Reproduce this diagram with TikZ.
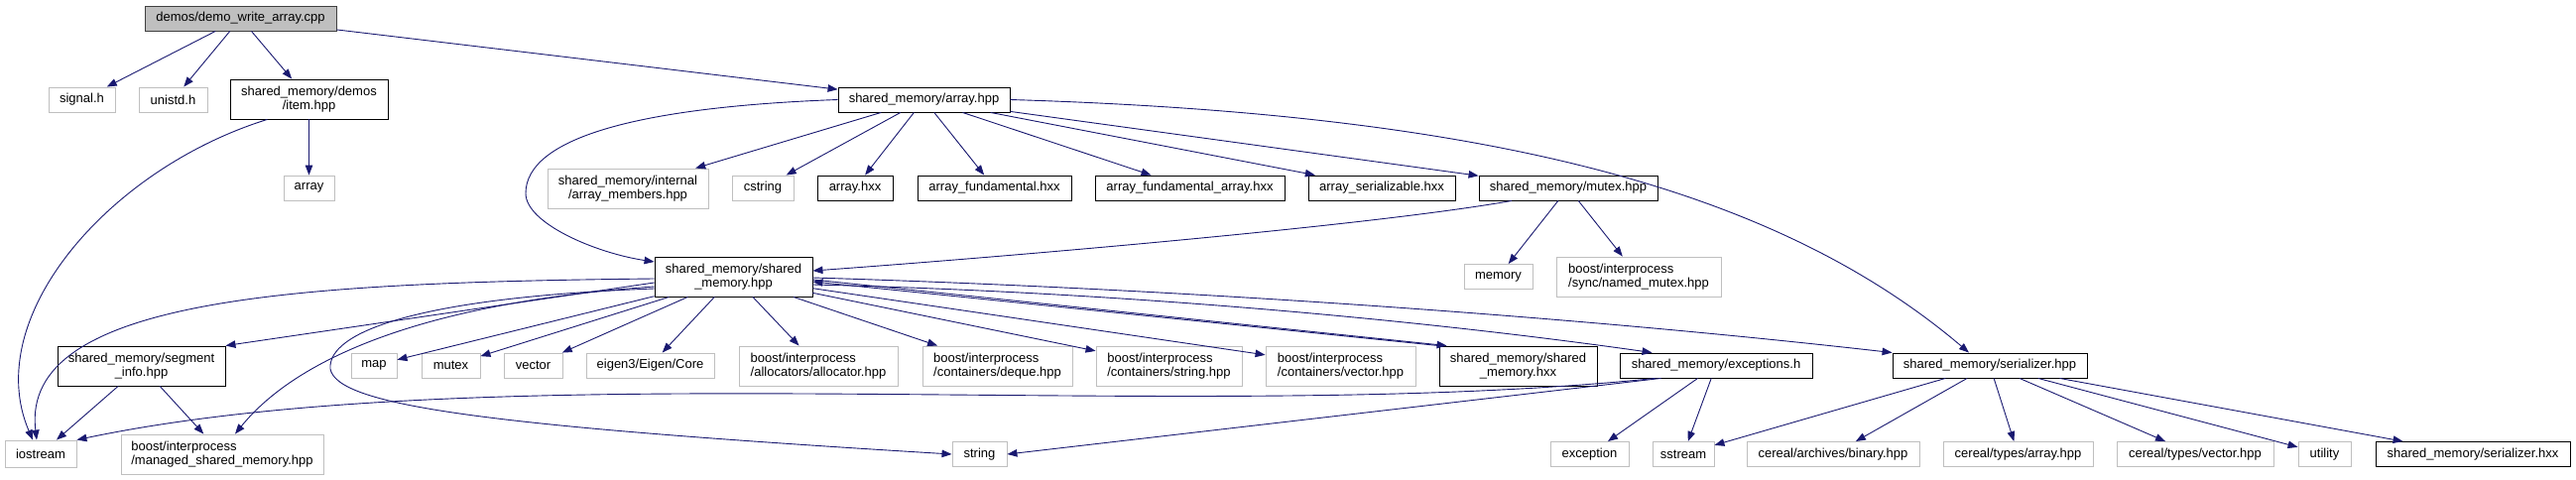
\documentclass[tikz,border=0pt]{standalone}
\usepackage{fontspec}
\setmainfont{Liberation Sans}
\usetikzlibrary{arrows.meta, calc}
\definecolor{edgeblue}{RGB}{25,25,112}
\definecolor{sysgray}{RGB}{191,191,191}
\definecolor{rootgray}{RGB}{64,64,64}

\begin{document}
\begin{tikzpicture}[
  x=1pt, y=-1pt,
  file/.style={draw=black, line width=0.9pt, inner sep=0pt, minimum height=25pt,
               align=center, font=\fontsize{13}{14.5}\selectfont},
  tall/.style={minimum height=40pt},
  sys/.style={file, draw=sysgray},
  root/.style={file, draw=rootgray, fill=sysgray},
  dep/.style={draw=edgeblue, line width=0.9pt, -{Triangle[length=10pt,width=7.5pt]}},
]
\useasboundingbox (0,0) rectangle (2597,484);

\node[root, minimum width=193] (main) at (242.5,18.5) {demos/demo\_write\_array.cpp};
\node[sys, minimum width=67] (signal) at (82.5,100.5) {signal.h};
\node[sys, minimum width=69] (unistd) at (174.5,100.5) {unistd.h};
\node[file, tall, minimum width=159] (item) at (311.5,100) {shared\_memory/demos\\/item.hpp};
\node[sys, minimum width=51] (stdarray) at (311.5,189.5) {array};
\node[file, minimum width=173] (arrayhpp) at (931.5,100.5) {shared\_memory/array.hpp};
\node[sys, tall, minimum width=162] (members) at (633,190) {shared\_memory/internal\\/array\_members.hpp};
\node[sys, minimum width=62] (cstring) at (769,189.5) {cstring};
\node[file, minimum width=76] (arrayhxx) at (862,189.5) {array.hxx};
\node[file, minimum width=155] (fund) at (1002.5,189.5) {array\_fundamental.hxx};
\node[file, minimum width=191] (fundarr) at (1199.5,189.5) {array\_fundamental\_array.hxx};
\node[file, minimum width=148] (serial) at (1393,189.5) {array\_serializable.hxx};
\node[file, minimum width=180] (mutexhpp) at (1581,189.5) {shared\_memory/mutex.hpp};
\node[file, tall, minimum width=159] (shmhpp) at (739.5,279) {shared\_memory/shared\\\_memory.hpp};
\node[sys, minimum width=69] (memory) at (1510.5,279) {memory};
\node[sys, tall, minimum width=166, align=left] (named) at (1652,279) {boost/interprocess\\/sync/named\_mutex.hpp};
\node[file, tall, minimum width=169] (seginfo) at (142.5,369) {shared\_memory/segment\\\_info.hpp};
\node[sys, minimum width=46] (map) at (377,368.5) {map};
\node[sys, minimum width=59] (stdmutex) at (454.5,368.5) {mutex};
\node[sys, minimum width=59] (stdvector) at (537.5,368.5) {vector};
\node[sys, minimum width=129] (eigen) at (655.5,368.5) {eigen3/Eigen/Core};
\node[sys, tall, minimum width=160, align=left] (alloc) at (825,369) {boost/interprocess\\/allocators/allocator.hpp};
\node[sys, tall, minimum width=151, align=left] (deque) at (1005.5,369) {boost/interprocess\\/containers/deque.hpp};
\node[sys, tall, minimum width=147, align=left] (bstring) at (1178.5,369) {boost/interprocess\\/containers/string.hpp};
\node[sys, tall, minimum width=151, align=left] (bvector) at (1351.5,369) {boost/interprocess\\/containers/vector.hpp};
\node[file, tall, minimum width=159] (shmhxx) at (1530.5,369) {shared\_memory/shared\\\_memory.hxx};
\node[file, minimum width=194] (except) at (1730,368.5) {shared\_memory/exceptions.h};
\node[file, minimum width=196] (serhpp) at (2006,368.5) {shared\_memory/serializer.hpp};
\node[sys, minimum width=72, minimum height=27] (iostream) at (41,457.5) {iostream};
\node[sys, tall, minimum width=204, align=left] (managed) at (224,458) {boost/interprocess\\/managed\_shared\_memory.hpp};
\node[sys, minimum width=55] (string) at (987.5,458) {string};
\node[sys, minimum width=79] (exception) at (1602.5,458) {exception};
\node[sys, minimum width=62] (sstream) at (1697,458) {sstream};
\node[sys, minimum width=174] (binary) at (1848,458) {cereal/archives/binary.hpp};
\node[sys, minimum width=151] (carray) at (2034.5,458) {cereal/types/array.hpp};
\node[sys, minimum width=158] (cvector) at (2213,458) {cereal/types/vector.hpp};
\node[sys, minimum width=53] (utility) at (2343.5,458) {utility};
\node[file, minimum width=196] (serhxx) at (2493,458) {shared\_memory/serializer.hxx};

\foreach \a/\b in {main/signal, main/unistd, main/item, main/arrayhpp, item/stdarray,
  arrayhpp/members, arrayhpp/cstring, arrayhpp/arrayhxx, arrayhpp/fund, arrayhpp/fundarr,
  arrayhpp/serial, arrayhpp/mutexhpp, mutexhpp/memory, mutexhpp/named,
  shmhpp/map, shmhpp/stdmutex, shmhpp/stdvector, shmhpp/eigen, shmhpp/alloc,
  shmhpp/deque, shmhpp/bstring, shmhpp/bvector, seginfo/iostream, seginfo/managed,
  except/exception, except/sstream, serhpp/sstream, serhpp/binary, serhpp/carray,
  serhpp/cvector, serhpp/utility, serhpp/serhxx}
  \draw[dep] (\a) -- (\b);

\draw[dep] ($(item.south)+(-42,0)$) .. controls (110,170) and (-20,320) .. ($(iostream.north)+(-8,0)$);
\draw[dep] (arrayhpp.west) .. controls (640,108) and (530,140) .. (530,195)
  .. controls (530,225) and (600,255) .. ($(shmhpp.west)+(0,-15)$);
\draw[dep] (arrayhpp.east) .. controls (1500,115) and (1790,190) .. ($(serhpp.north)+(-21,0)$);
\draw[dep] ($(mutexhpp.south)+(-57,0)$) .. controls (1380,228) and (1000,260) .. ($(shmhpp.east)+(0,-6)$);
\draw[dep] ($(shmhpp.west)+(0,2)$) .. controls (300,285) and (20,300) .. ($(iostream.north)+(-4,0)$);
\draw[dep] ($(shmhpp.west)+(0,6)$) -- (seginfo.north east);
\draw[dep] ($(shmhpp.west)+(0,10)$) .. controls (430,305) and (300,360) .. ($(managed.north)+(13,0)$);
\draw[dep] ($(shmhpp.west)+(0,12)$) .. controls (420,300) and (330,335) .. (333,372)
  .. controls (340,410) and (500,430) .. (string.west);
\draw[dep] ($(shmhpp.east)+(0,3)$) -- ($(shmhxx.north west)+(8,0)$);
\draw[dep] (shmhxx.north west) -- ($(shmhpp.east)+(0,5)$);
\draw[dep] ($(shmhpp.east)+(0,8)$) .. controls (1150,295) and (1450,325) .. ($(except.north west)+(33,0)$);
\draw[dep] ($(shmhpp.east)+(0,1)$) .. controls (1150,290) and (1550,315) .. (serhpp.north west);
\draw[dep] ($(except.south west)+(36,0)$) .. controls (1200,430) and (500,355) .. (iostream.north east);
\draw[dep] ($(except.south west)+(42,0)$) -- (string.east);
\end{tikzpicture}
\end{document}
